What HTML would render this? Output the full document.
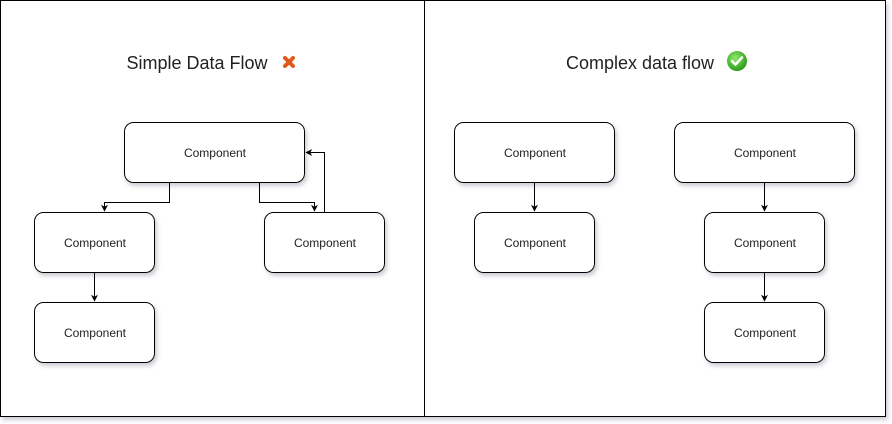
<!DOCTYPE html>
<html><head><style>
body{margin:0;background:#fff;width:892px;height:424px;overflow:hidden}
svg{display:block}
text{font-family:"Liberation Sans",Arial,sans-serif;fill:#222}
</style></head><body>
<svg width="892" height="424" viewBox="0 0 892 424">
<defs>
<filter id="sh" x="-10%" y="-10%" width="130%" height="140%"><feDropShadow dx="2" dy="3" stdDev="1.5" flood-color="#99a" flood-opacity="0.5"/></filter>
<marker id="a" viewBox="0 0 10 10" refX="9" refY="5" markerWidth="7" markerHeight="7" orient="auto"><path d="M0,0 L10,5 L0,10 L3,5z" fill="#000"/></marker>
<radialGradient id="g" cx="40%" cy="35%" r="65%"><stop offset="0" stop-color="#8fe86a"/><stop offset="1" stop-color="#2a9d1a"/></radialGradient>
</defs>
<rect x="0.5" y="0.5" width="885" height="416" fill="#fff" stroke="#000" filter="url(#sh)"/>
<line x1="424.5" y1="0" x2="424.5" y2="417" stroke="#000"/>
<text x="197" y="69" font-size="18" text-anchor="middle">Simple Data Flow</text>
<g transform="translate(289,62)" stroke="#e05a1a" stroke-width="4" stroke-linecap="round"><line x1="-4" y1="-4" x2="4" y2="4"/><line x1="4" y1="-4" x2="-4" y2="4"/></g>
<text x="640" y="69" font-size="18" text-anchor="middle">Complex data flow</text>
<circle cx="737" cy="61" r="10" fill="url(#g)"/>
<path d="M732,61 l3.5,3.5 l6.5,-7" stroke="#fff" stroke-width="2.6" fill="none" stroke-linecap="round" stroke-linejoin="round"/>
<g fill="#fff" stroke="#000" stroke-width="1" filter="url(#sh)">
<rect x="124.5" y="122.5" width="180" height="60" rx="9"/>
<rect x="34.5" y="212.5" width="120" height="60" rx="9"/>
<rect x="34.5" y="302.5" width="120" height="60" rx="9"/>
<rect x="264.5" y="212.5" width="120" height="60" rx="9"/>
<rect x="454.5" y="122.5" width="160" height="60" rx="9"/>
<rect x="474.5" y="212.5" width="120" height="60" rx="9"/>
<rect x="674.5" y="122.5" width="180" height="60" rx="9"/>
<rect x="704.5" y="212.5" width="120" height="60" rx="9"/>
<rect x="704.5" y="302.5" width="120" height="60" rx="9"/>
</g>
<g font-size="12" text-anchor="middle">
<text x="215" y="157">Component</text>
<text x="95" y="247">Component</text>
<text x="95" y="337">Component</text>
<text x="325" y="247">Component</text>
<text x="535" y="157">Component</text>
<text x="535" y="247">Component</text>
<text x="765" y="157">Component</text>
<text x="765" y="247">Component</text>
<text x="765" y="337">Component</text>
</g>
<g stroke="#000" fill="none" marker-end="url(#a)">
<path d="M169.5,183 V202.5 H104.5 V211"/>
<path d="M259.5,183 V202.5 H314.5 V211"/>
<path d="M324.5,212 V152.5 H306"/>
<path d="M94.5,273 V301"/>
<path d="M534.5,183 V211"/>
<path d="M764.5,183 V211"/>
<path d="M764.5,273 V301"/>
</g>
</svg>
</body></html>
